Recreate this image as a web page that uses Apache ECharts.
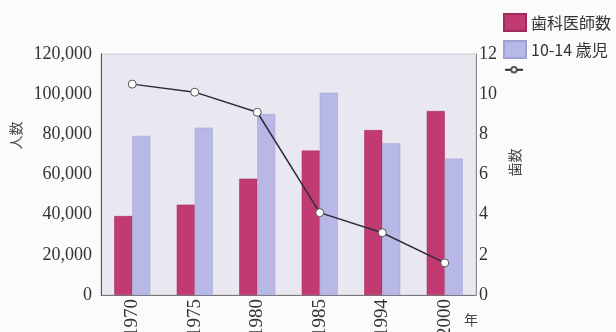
<!DOCTYPE html>
<html>
<head>
<meta charset="utf-8">
<script src="https://cdn.jsdelivr.net/npm/echarts@6/dist/echarts.min.js"></script>
<style>
  html, body { margin: 0; padding: 0; background: #fbfbfc; }
  #chart { width: 616px; height: 332px; }
</style>
</head>
<body>
<div id="chart"></div>
<script>
// Survey years on the category axis
const years = ['1970', '1975', '1980', '1985', '1994', '2000'];
// Number of dentists (left axis, persons)
const dentists = [39300, 45000, 57900, 71900, 82100, 91600];
// Children aged 10-14 (left axis)
const children = [79200, 83300, 90100, 100700, 75500, 67900];
// Average decayed/missing/filled teeth (right axis)
const teeth = [10.5, 10.1, 9.1, 4.1, 3.1, 1.6];
// Axis tick settings
const leftMax = 120000, leftStep = 20000;
const rightMax = 12, rightStep = 2;

const serif = '"Liberation Serif", "DejaVu Serif", serif';
const cjk = '"Noto Sans CJK JP", sans-serif';

const chart = echarts.init(document.getElementById('chart'), null, { renderer: 'canvas' });
chart.setOption({
  animation: false,
  backgroundColor: '#fbfbfc',
  grid: {
    left: 101, right: 140, top: 54, bottom: 37,
    outerBoundsMode: 'none', containLabel: false,
    show: true, backgroundColor: '#e9e7ef', borderColor: '#c9c7d2', borderWidth: 1
  },
  legend: [
    {
      left: 498, top: 8, orient: 'vertical', itemGap: 8,
      itemWidth: 22, itemHeight: 17,
      textStyle: { fontFamily: cjk, fontSize: 16, color: '#333' },
      data: [
        { name: '歯科医師数', icon: 'rect' },
        { name: '10-14 歳児', icon: 'rect' }
      ]
    },
    {
      left: 499, top: 61, itemWidth: 18, itemHeight: 7,
      formatter: function () { return ''; },
      data: [{ name: '歯数' }]
    }
  ],
  xAxis: {
    type: 'category', data: years,
    name: '年', nameLocation: 'end', nameGap: -12,
    nameTextStyle: { fontFamily: cjk, fontSize: 14, color: '#444', verticalAlign: 'top', padding: [18, 0, 0, 0] },
    axisLine: { lineStyle: { color: '#777' } },
    axisTick: { show: false },
    axisLabel: { rotate: 90, fontFamily: serif, fontSize: 19, color: '#333', margin: 4 }
  },
  yAxis: [
    {
      type: 'value', min: 0, max: leftMax, interval: leftStep,
      name: '人数', nameLocation: 'middle', nameRotate: 90, nameGap: 76,
      nameTextStyle: { fontFamily: cjk, fontSize: 14, color: '#444', padding: [0, 0, 0, 78] },
      axisLine: { show: true, lineStyle: { color: '#555' } },
      axisTick: { show: false },
      splitLine: { show: false },
      axisLabel: {
        fontFamily: serif, fontSize: 18, color: '#333', margin: 9,
        formatter: function (v) { return v.toLocaleString('en-US'); }
      }
    },
    {
      type: 'value', min: 0, max: rightMax, interval: rightStep,
      name: '歯数', nameLocation: 'middle', nameRotate: 90, nameGap: 30,
      nameTextStyle: { fontFamily: cjk, fontSize: 14, color: '#444', padding: [0, 0, 0, 24] },
      axisLine: { show: true, lineStyle: { color: '#888' } },
      axisTick: { show: false },
      splitLine: { show: false },
      axisLabel: { fontFamily: serif, fontSize: 18, color: '#333', margin: 3 }
    }
  ],
  series: [
    {
      name: '歯科医師数', type: 'bar', data: dentists, yAxisIndex: 0,
      barWidth: 18, barGap: '0%',
      itemStyle: { color: '#c23a72', borderColor: '#9e2b5a', borderWidth: 0.5 }
    },
    {
      name: '10-14 歳児', type: 'bar', data: children, yAxisIndex: 0,
      barWidth: 18, barGap: '0%',
      itemStyle: { color: '#b8b8e6', borderColor: '#a0a0d6', borderWidth: 0.5 }
    },
    {
      name: '歯数', type: 'line', data: teeth, yAxisIndex: 1,
      symbol: 'circle', symbolSize: 8,
      lineStyle: { color: '#2c2c3c', width: 1.5 },
      itemStyle: { color: '#ffffff', borderColor: '#555', borderWidth: 1 }
    }
  ]
});
</script>
</body>
</html>
